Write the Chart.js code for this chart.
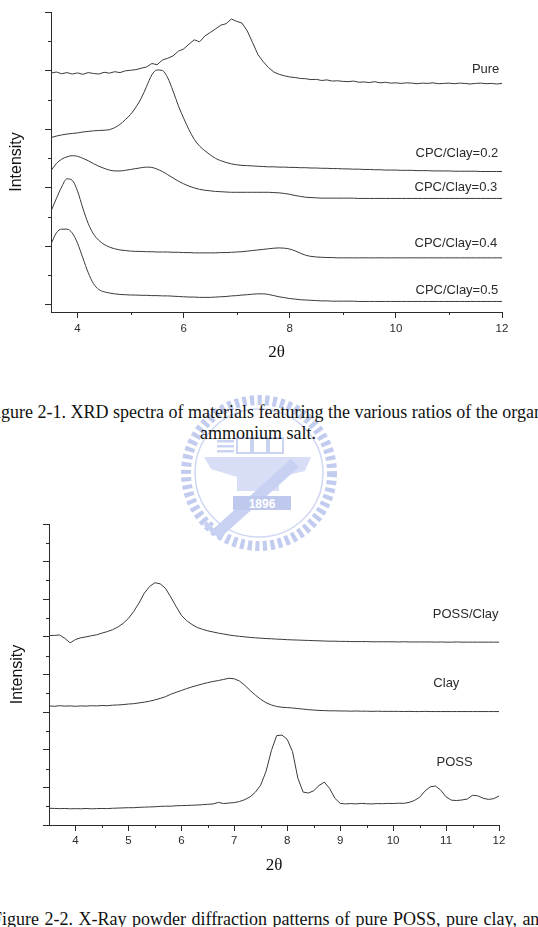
<!DOCTYPE html>
<html>
<head>
<meta charset="utf-8">
<script src="https://cdn.jsdelivr.net/npm/chart.js@4.4.0/dist/chart.umd.min.js"></script>
<style>
html,body{margin:0;padding:0;background:#fff;}
body{width:538px;height:927px;overflow:hidden;position:relative;}
#wm{position:absolute;left:0;top:0;}
.cv{position:absolute;left:0;}
#c1{top:0;}
#c2{top:500px;}
.cap{position:absolute;font-family:"Liberation Serif","Times New Roman",serif;font-size:18px;line-height:18px;color:#111;white-space:nowrap;}
</style>
</head>
<body>
<svg id="wm" width="538" height="927" viewBox="0 0 538 927">
  <g transform="translate(259,473)">
    <circle r="73" fill="none" stroke="#c2ccef" stroke-width="10" stroke-dasharray="4.2 3.4"/>
    <circle r="64" fill="none" stroke="#cfd7f3" stroke-width="1.5"/>
    <g fill="#cbd3f2">
      <rect x="-42" y="-33" width="17" height="2.5"/>
      <rect x="-42" y="-28" width="17" height="2.5"/>
      <rect x="-42" y="-23" width="17" height="2.5"/>
    </g>
    <g fill="none" stroke="#cbd3f2" stroke-width="2">
      <rect x="-22" y="-35" width="14" height="15"/>
      <rect x="-6" y="-35" width="14" height="15"/>
      <rect x="10" y="-35" width="14" height="15"/>
    </g>
    <path d="M-55,-16 L52,-16 L46,-2 L20,4 L20,18 L-22,18 L-22,4 L-48,-4 Z" fill="#d8def6"/>
    <path d="M-48,58 L-40,66 L40,-6 L32,-14 Z" fill="#c8d1f1"/>
    <path d="M-54,50 L-46,58" stroke="#c8d1f1" stroke-width="5"/>
    <rect x="-26" y="23" width="58" height="14" fill="#bfc9ee"/>
    <text x="3" y="34.5" text-anchor="middle" font-family="Liberation Sans,Arial,sans-serif" font-size="12" font-weight="bold" fill="#ffffff">1896</text>
  </g>
</svg>

<div class="cap" id="cap1a" style="left:-14px;top:403px;">Figure 2-1. XRD spectra of materials featuring the various ratios of the organic</div>
<div class="cap" id="cap1b" style="left:200px;top:424px;">ammonium salt.</div>
<div class="cap" id="cap2" style="left:-8px;top:910px;word-spacing:1px;">Figure 2-2. X-Ray powder diffraction patterns of pure POSS, pure clay, and the POSS/clay</div>

<canvas id="c1" class="cv" width="538" height="370"></canvas>
<canvas id="c2" class="cv" width="538" height="380"></canvas>

<script>
// ---------- data ----------
const twoTheta = [3.5,3.6,3.7,3.8,3.9,
  4.0,4.1,4.2,4.3,4.4,4.5,4.6,4.7,4.8,4.9,
  5.0,5.1,5.2,5.3,5.4,5.5,5.6,5.7,5.8,5.9,
  6.0,6.1,6.2,6.3,6.4,6.5,6.6,6.7,6.8,6.9,
  7.0,7.1,7.2,7.3,7.4,7.5,7.6,7.7,7.8,7.9,
  8.0,8.1,8.2,8.3,8.4,8.5,8.6,8.7,8.8,8.9,
  9.0,9.1,9.2,9.3,9.4,9.5,9.6,9.7,9.8,9.9,
  10.0,10.1,10.2,10.3,10.4,10.5,10.6,10.7,10.8,10.9,
  11.0,11.1,11.2,11.3,11.4,11.5,11.6,11.7,11.8,11.9,
  12.0];

// Figure 2-1 (offset intensity, arbitrary units)
const seriesNames1 = ['Pure','CPC/Clay=0.2','CPC/Clay=0.3','CPC/Clay=0.4','CPC/Clay=0.5'];
const pure = [7.91,7.95,7.89,7.93,7.88,
  7.92,7.87,7.93,7.9,7.88,7.94,7.91,7.96,7.93,7.99,
  8.01,8.03,8.08,8.12,8.24,8.2,8.36,8.42,8.5,8.66,
  8.74,8.9,9.05,8.98,9.18,9.3,9.42,9.55,9.6,9.76,
  9.68,9.62,9.35,8.95,8.55,8.3,8.1,7.95,7.87,7.82,
  7.78,7.76,7.73,7.72,7.69,7.7,7.66,7.68,7.64,7.65,
  7.63,7.62,7.64,7.6,7.61,7.59,7.62,7.58,7.6,7.57,
  7.58,7.56,7.58,7.57,7.55,7.57,7.56,7.58,7.55,7.56,
  7.57,7.55,7.57,7.56,7.54,7.56,7.57,7.55,7.56,7.54,
  7.56];
const cpc02 = [5.71,5.76,5.8,5.83,5.85,
  5.87,5.9,5.92,5.94,5.95,5.96,5.98,6.05,6.16,6.32,
  6.5,6.75,7.05,7.45,7.85,8.02,8.0,7.75,7.3,6.8,
  6.37,5.98,5.65,5.42,5.26,5.12,5.0,4.92,4.86,4.81,
  4.78,4.76,4.75,4.74,4.73,4.72,4.71,4.71,4.7,4.7,
  4.69,4.69,4.68,4.68,4.67,4.67,4.66,4.66,4.65,4.65,
  4.64,4.64,4.63,4.63,4.62,4.62,4.61,4.61,4.6,4.6,
  4.6,4.59,4.59,4.59,4.58,4.58,4.58,4.57,4.57,4.57,
  4.57,4.56,4.56,4.56,4.56,4.56,4.55,4.55,4.55,4.55,
  4.55];
const cpc03 = [4.58,4.82,4.97,5.05,5.09,
  5.07,5.0,4.92,4.82,4.73,4.66,4.6,4.57,4.57,4.59,
  4.62,4.65,4.68,4.7,4.69,4.63,4.55,4.44,4.33,4.22,
  4.13,4.05,3.99,3.94,3.91,3.89,3.87,3.86,3.85,3.84,
  3.84,3.84,3.84,3.84,3.84,3.84,3.84,3.83,3.82,3.8,
  3.77,3.73,3.7,3.67,3.66,3.65,3.64,3.64,3.64,3.64,
  3.64,3.64,3.64,3.63,3.63,3.63,3.63,3.63,3.63,3.63,
  3.63,3.63,3.63,3.63,3.63,3.63,3.63,3.63,3.63,3.63,
  3.63,3.63,3.63,3.63,3.63,3.63,3.63,3.63,3.63,3.63,
  3.63];
const cpc04 = [3.19,3.62,4.02,4.3,4.25,
  3.88,3.3,2.78,2.42,2.2,2.06,1.97,1.91,1.87,1.85,
  1.83,1.82,1.82,1.81,1.81,1.8,1.8,1.8,1.79,1.79,
  1.78,1.78,1.77,1.77,1.77,1.77,1.77,1.78,1.78,1.79,
  1.8,1.81,1.83,1.85,1.87,1.89,1.91,1.93,1.94,1.93,
  1.9,1.84,1.76,1.69,1.65,1.63,1.62,1.61,1.61,1.6,
  1.6,1.6,1.6,1.6,1.6,1.6,1.6,1.6,1.6,1.6,
  1.6,1.6,1.6,1.6,1.6,1.6,1.6,1.6,1.6,1.6,
  1.6,1.6,1.6,1.6,1.6,1.6,1.6,1.6,1.6,1.6,
  1.6];
const cpc05 = [2.07,2.45,2.58,2.58,2.45,
  2.1,1.6,1.1,0.72,0.52,0.44,0.4,0.37,0.35,0.34,
  0.33,0.33,0.32,0.32,0.31,0.31,0.3,0.3,0.29,0.28,
  0.27,0.26,0.26,0.25,0.25,0.25,0.26,0.27,0.28,0.3,
  0.31,0.33,0.34,0.36,0.37,0.37,0.35,0.31,0.27,0.24,
  0.21,0.19,0.17,0.16,0.15,0.14,0.13,0.13,0.12,0.12,
  0.12,0.12,0.12,0.11,0.11,0.11,0.11,0.11,0.11,0.11,
  0.11,0.11,0.11,0.11,0.11,0.11,0.11,0.11,0.11,0.11,
  0.11,0.11,0.11,0.11,0.11,0.11,0.11,0.11,0.11,0.11,
  0.11];

// Figure 2-2
const seriesNames2 = ['POSS/Clay','Clay','POSS'];
const possClay = [10.07,10.08,10.1,9.92,9.68,
  9.86,9.95,10.0,10.06,10.11,10.2,10.28,10.38,10.52,10.72,
  10.98,11.35,11.8,12.32,12.68,12.88,12.82,12.58,12.12,11.62,
  11.15,10.86,10.66,10.5,10.4,10.32,10.26,10.2,10.15,10.1,
  10.06,10.03,10.0,9.97,9.95,9.93,9.91,9.9,9.88,9.87,
  9.85,9.84,9.83,9.82,9.81,9.8,9.79,9.78,9.77,9.77,
  9.76,9.76,9.75,9.75,9.75,9.75,9.74,9.74,9.74,9.74,
  9.74,9.73,9.74,9.73,9.73,9.73,9.73,9.73,9.72,9.73,
  9.72,9.72,9.73,9.72,9.72,9.72,9.72,9.72,9.72,9.72,
  9.72];
const clay = [6.33,6.31,6.34,6.32,6.33,
  6.31,6.33,6.32,6.34,6.33,6.35,6.34,6.37,6.38,6.4,
  6.43,6.45,6.49,6.53,6.58,6.65,6.73,6.82,6.95,7.05,
  7.15,7.25,7.34,7.42,7.5,7.57,7.63,7.68,7.74,7.8,
  7.77,7.65,7.42,7.15,6.9,6.68,6.5,6.38,6.3,6.26,
  6.24,6.22,6.19,6.16,6.13,6.11,6.09,6.08,6.07,6.07,
  6.06,6.06,6.05,6.06,6.05,6.05,6.04,6.05,6.04,6.04,
  6.04,6.04,6.03,6.04,6.03,6.03,6.04,6.03,6.03,6.03,
  6.03,6.03,6.03,6.03,6.03,6.03,6.03,6.03,6.03,6.03,
  6.03];
const poss = [0.89,0.88,0.87,0.88,0.86,
  0.87,0.86,0.88,0.86,0.87,0.88,0.87,0.89,0.9,0.91,
  0.92,0.92,0.94,0.95,0.96,0.97,0.99,1.0,1.0,1.02,
  1.03,1.04,1.05,1.06,1.08,1.1,1.12,1.2,1.14,1.17,
  1.19,1.25,1.35,1.5,1.75,2.13,2.85,3.95,4.75,4.78,
  4.55,3.9,2.5,1.75,1.7,1.82,2.1,2.28,1.95,1.42,
  1.15,1.12,1.14,1.12,1.15,1.13,1.12,1.14,1.13,1.15,
  1.14,1.16,1.15,1.2,1.3,1.47,1.8,2.03,2.07,1.85,
  1.5,1.32,1.3,1.33,1.38,1.58,1.55,1.42,1.36,1.4,
  1.54];

const xTicks1 = [4,6,8,10,12];
const xMinor1 = [5,7,9,11];
const xTicks2 = [4,5,6,7,8,9,10,11,12];
const xMinor2 = [4.5,5.5,6.5,7.5,8.5,9.5,10.5,11.5];

// ---------- helpers ----------
const INK = '#2b2b2b';
const LINE = '#3a3a3a';
function series(name, vals, smooth) {
  return {
    label: name,
    data: twoTheta.map((x, i) => ({x: x, y: vals[i]})),
    borderColor: LINE,
    borderWidth: 1,
    pointRadius: 0,
    fill: false,
    tension: 0,
    cubicInterpolationMode: smooth ? 'monotone' : 'default'
  };
}
function annotPlugin(cfg) {
  return {
    id: 'annot',
    afterDraw(chart) {
      const {ctx, chartArea} = chart;
      const xs = chart.scales.x, ys = chart.scales.y;
      ctx.save();
      ctx.strokeStyle = INK;
      ctx.lineWidth = 1;
      ctx.beginPath();
      cfg.minorX.forEach(v => {
        const px = Math.round(xs.getPixelForValue(v)) + 0.5;
        ctx.moveTo(px, chartArea.bottom);
        ctx.lineTo(px, chartArea.bottom + cfg.minorLen);
      });
      cfg.minorY.forEach(v => {
        const py = Math.round(ys.getPixelForValue(v)) + 0.5;
        ctx.moveTo(chartArea.left, py);
        ctx.lineTo(chartArea.left - cfg.minorLen, py);
      });
      ctx.stroke();
      ctx.fillStyle = INK;
      ctx.font = '13px "Liberation Sans", Arial, sans-serif';
      ctx.textBaseline = 'middle';
      cfg.labels.forEach(l => {
        ctx.textAlign = l.align;
        ctx.fillText(l.text, xs.getPixelForValue(l.x), ys.getPixelForValue(l.y));
      });
      ctx.restore();
    }
  };
}
function makeOptions(o) {
  return {
    responsive: false,
    animation: false,
    events: [],
    layout: {padding: o.padding},
    plugins: {legend: {display: false}, tooltip: {enabled: false}},
    scales: {
      x: {
        type: 'linear', min: 3.5, max: 12,
        afterBuildTicks: s => { s.ticks = o.xTicks.map(v => ({value: v})); },
        afterFit: s => { s.height = o.xHeight; },
        border: {display: true, color: INK, width: 1},
        grid: {display: true, drawOnChartArea: false, drawTicks: true, tickLength: 6, color: INK},
        ticks: {padding: o.xPad, color: INK, maxRotation: 0, autoSkip: false,
                font: {family: '"Liberation Sans", Arial, sans-serif', size: 11.5}},
        title: {display: true, text: '2θ', color: '#111',
                font: {family: '"Liberation Serif", "Times New Roman", serif', size: 17},
                padding: {top: 0, bottom: o.xTitlePad}}
      },
      y: {
        type: 'linear', min: o.yMin, max: o.yMax,
        afterBuildTicks: s => { s.ticks = o.yTicks.map(v => ({value: v})); },
        afterFit: s => { s.width = o.yWidth; },
        border: {display: true, color: INK, width: 1},
        grid: {display: true, drawOnChartArea: false, drawTicks: true, tickLength: 6, color: INK},
        ticks: {display: true, callback: () => '', padding: 0},
        title: {display: true, text: 'Intensity', color: '#111',
                font: {family: '"Liberation Sans", Arial, sans-serif', size: 16},
                padding: {top: o.yTitlePad, bottom: 0}}
      }
    }
  };
}

// ---------- Figure 2-1 ----------
new Chart(document.getElementById('c1'), {
  type: 'line',
  data: {datasets: [
    series(seriesNames1[0], pure, false),
    series(seriesNames1[1], cpc02, true),
    series(seriesNames1[2], cpc03, true),
    series(seriesNames1[3], cpc04, true),
    series(seriesNames1[4], cpc05, true)
  ]},
  options: makeOptions({
    padding: {left: 0, right: 36, top: 12, bottom: 0},
    xTicks: xTicks1, xHeight: 58, xPad: 4, xTitlePad: 7,
    yMin: -0.25, yMax: 10, yTicks: [0,2,4,6,8,10], yWidth: 51, yTitlePad: 7
  }),
  plugins: [annotPlugin({
    minorX: xMinor1, minorY: [1,3,5,7,9], minorLen: 3,
    labels: [
      {text: seriesNames1[0], x: 11.95, y: 8.05, align: 'right'},
      {text: seriesNames1[1], x: 11.93, y: 5.17, align: 'right'},
      {text: seriesNames1[2], x: 11.91, y: 4.0, align: 'right'},
      {text: seriesNames1[3], x: 11.91, y: 2.08, align: 'right'},
      {text: seriesNames1[4], x: 11.93, y: 0.49, align: 'right'}
    ]
  })]
});

// ---------- Figure 2-2 ----------
new Chart(document.getElementById('c2'), {
  type: 'line',
  data: {datasets: [
    series(seriesNames2[0], possClay, false),
    series(seriesNames2[1], clay, false),
    series(seriesNames2[2], poss, false)
  ]},
  options: makeOptions({
    padding: {left: 0, right: 39, top: 24, bottom: 0},
    xTicks: xTicks2, xHeight: 55, xPad: 2.5, xTitlePad: 4,
    yMin: 0, yMax: 16, yTicks: [0,2,4,6,8,10,12,14,16], yWidth: 49, yTitlePad: 8
  }),
  plugins: [annotPlugin({
    minorX: xMinor2, minorY: [1,3,5,7,9,11,13,15], minorLen: 3,
    labels: [
      {text: seriesNames2[0], x: 10.75, y: 11.22, align: 'left'},
      {text: seriesNames2[1], x: 10.76, y: 7.5, align: 'left'},
      {text: seriesNames2[2], x: 10.82, y: 3.35, align: 'left'}
    ]
  })]
});
</script>
</body>
</html>
